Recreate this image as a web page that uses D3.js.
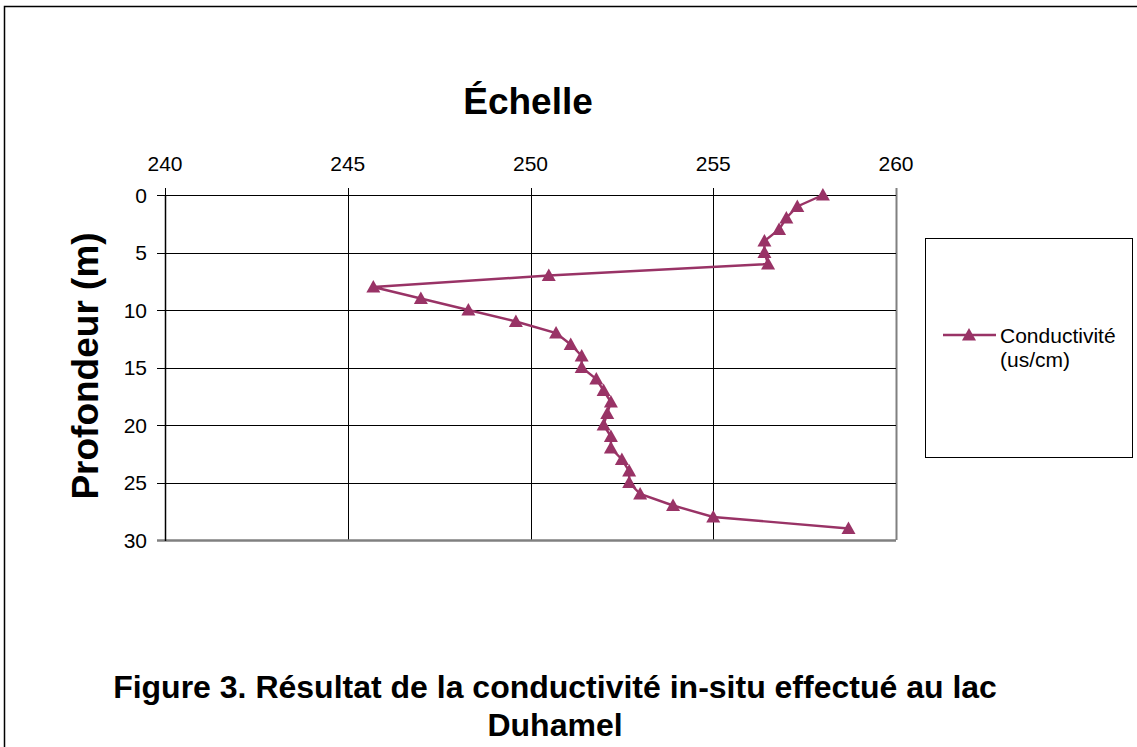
<!DOCTYPE html>
<html>
<head>
<meta charset="utf-8">
<script src="https://cdn.jsdelivr.net/npm/d3@7"></script>
<style>
  html, body { margin: 0; padding: 0; background: #fff; }
  svg { display: block; font-family: "Liberation Sans", Arial, sans-serif; }
</style>
</head>
<body>
<svg id="chart" width="1137" height="747"></svg>
<script>
// ---- data ----
const depths = [0,1,2,3,4,5,6,7,8,9,10,11,12,13,14,15,16,17,18,19,20,21,22,23,24,25,26,27,28,29];
const conductivity = [258.0,257.3,257.0,256.8,256.4,256.4,256.5,250.5,245.7,247.0,248.3,249.6,250.7,251.1,251.4,251.4,251.8,252.0,252.2,252.1,252.0,252.2,252.2,252.5,252.7,252.7,253.0,253.9,255.0,258.7];
const xTicks = [240,245,250,255,260];
const yTicks = [0,5,10,15,20,25,30];
const seriesName = ["Conductivité", "(us/cm)"];
const chartTitle = "Échelle";
const yTitle = "Profondeur (m)";
const caption = ["Figure 3. Résultat de la conductivité in-situ effectué au lac", "Duhamel"];

const color = "#993366";
const svg = d3.select("#chart");

// outer frame
svg.append("path")
  .attr("d", "M4.5,747 V6.5 H1137")
  .attr("fill", "none").attr("stroke", "#000").attr("stroke-width", 1.5);

const x = d3.scaleLinear().domain([240, 260]).range([165, 896]);
const y = d3.scaleLinear().domain([0, 30]).range([195, 540]);

// grid lines
const g = svg.append("g");
g.selectAll(".vg").data(xTicks).join("line")
  .attr("x1", d => Math.round(x(d)) + 0.5).attr("x2", d => Math.round(x(d)) + 0.5)
  .attr("y1", y(0) - 7).attr("y2", y(30))
  .attr("stroke", d => d === 260 ? "#808080" : "#000").attr("stroke-width", d => d === 260 ? 2 : 1);
g.selectAll(".hg").data(yTicks).join("line")
  .attr("y1", d => Math.round(y(d)) + 0.5).attr("y2", d => Math.round(y(d)) + 0.5)
  .attr("x1", x(240) - 8).attr("x2", x(260))
  .attr("stroke", d => d === 30 ? "#808080" : "#000").attr("stroke-width", d => d === 30 ? 2.5 : 1);
// left axis line
g.append("line").attr("x1", Math.round(x(240)) + 0.5).attr("x2", Math.round(x(240)) + 0.5)
  .attr("y1", y(0)).attr("y2", y(30) + 1).attr("stroke", "#000").attr("stroke-width", 1.5);

// axis tick labels
svg.selectAll(".xt").data(xTicks).join("text")
  .attr("x", d => x(d)).attr("y", 171)
  .attr("text-anchor", "middle").attr("font-size", 21)
  .text(d => d);
svg.selectAll(".yt").data(yTicks).join("text")
  .attr("x", 147).attr("y", d => y(d) + 7.5)
  .attr("text-anchor", "end").attr("font-size", 21)
  .text(d => d);

// line + markers
const line = d3.line().x((d, i) => x(conductivity[i])).y(d => y(d));
svg.append("path").datum(depths)
  .attr("d", line).attr("fill", "none")
  .attr("stroke", color).attr("stroke-width", 2.4);
const tri = "M0,-7 L7,5.5 L-7,5.5 Z";
svg.selectAll(".mk").data(depths).join("path")
  .attr("d", tri)
  .attr("transform", (d, i) => `translate(${x(conductivity[i])},${y(d)})`)
  .attr("fill", color);

// titles
svg.append("text").attr("x", 528).attr("y", 114)
  .attr("text-anchor", "middle").attr("font-size", 37).attr("font-weight", "bold")
  .text(chartTitle);
svg.append("text").attr("transform", "translate(98,366) rotate(-90)")
  .attr("text-anchor", "middle").attr("font-size", 37).attr("font-weight", "bold")
  .text(yTitle);

// legend
svg.append("rect").attr("x", 925.5).attr("y", 238.5).attr("width", 207).attr("height", 219)
  .attr("fill", "#fff").attr("stroke", "#000").attr("stroke-width", 1);
svg.append("line").attr("x1", 943).attr("x2", 996).attr("y1", 335).attr("y2", 335)
  .attr("stroke", color).attr("stroke-width", 2.4);
svg.append("path").attr("d", tri).attr("transform", "translate(969,335)").attr("fill", color);
svg.selectAll(".lg").data(seriesName).join("text")
  .attr("x", 1000).attr("y", (d, i) => 343 + i * 24)
  .attr("font-size", 21)
  .text(d => d);

// caption
svg.selectAll(".cap").data(caption).join("text")
  .attr("x", 555).attr("y", (d, i) => 698 + i * 38)
  .attr("text-anchor", "middle").attr("font-size", 32).attr("font-weight", "bold")
  .text(d => d);
</script>
</body>
</html>
